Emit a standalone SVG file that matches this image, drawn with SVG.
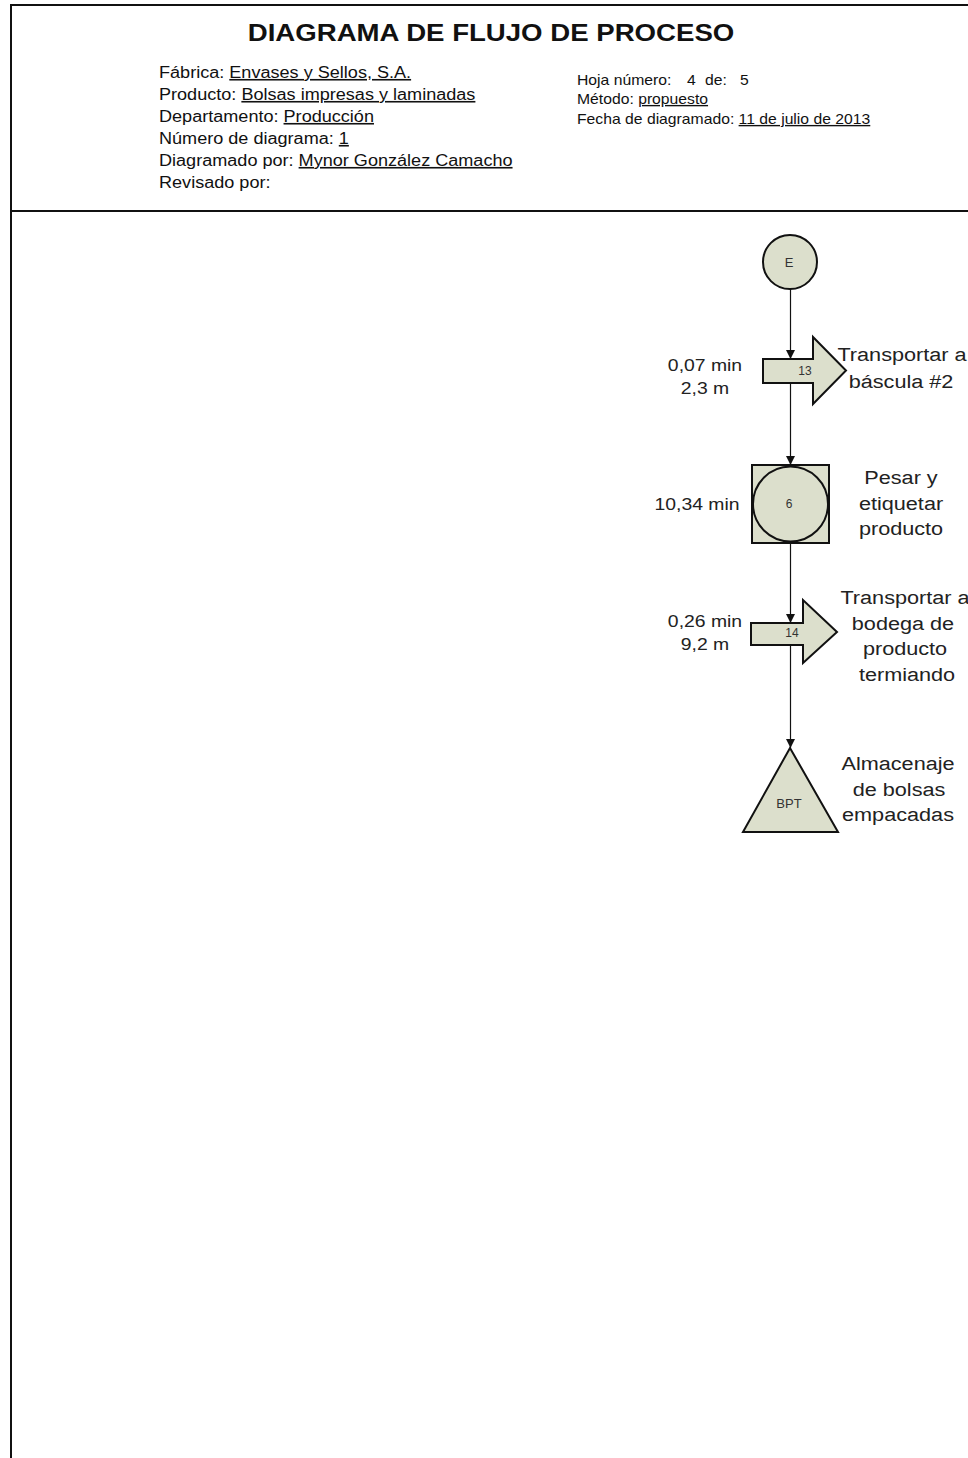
<svg xmlns="http://www.w3.org/2000/svg" width="968" height="1458" viewBox="0 0 968 1458">
  <style>
    text { font-family: "Liberation Sans", Arial, sans-serif; fill: #111; }
    .title { font-size: 24px; font-weight: bold; text-anchor: middle; }
    .info { font-size: 16px; }
    .info2 { font-size: 13.8px; }
    .u { text-decoration: underline; }
    .lbl { font-size: 19px; text-anchor: middle; fill: #222; }
    .tm { font-size: 17px; text-anchor: middle; fill: #222; }
    .num { font-size: 12px; text-anchor: middle; fill: #333; }
    .shape { fill: #dcdfcc; stroke: #111; stroke-width: 2; }
    .frame { stroke: #111; stroke-width: 2; fill: none; }
    .conn { stroke: #111; stroke-width: 1.2; fill: none; marker-end: url(#arr); }
  </style>
  <defs>
    <marker id="arr" viewBox="0 0 10 10" refX="10" refY="5" markerWidth="9" markerHeight="10" markerUnits="userSpaceOnUse" orient="auto">
      <path d="M0,0 L10,5 L0,10 Z" fill="#111"/>
    </marker>
  </defs>

  <rect width="968" height="1458" fill="#fff"/>

  <!-- page frame -->
  <g id="frame">
    <line class="frame" x1="11" y1="5" x2="968" y2="5"/>
    <line class="frame" x1="11" y1="4" x2="11" y2="1458"/>
    <line class="frame" x1="11" y1="211" x2="968" y2="211"/>
  </g>

  <!-- header -->
  <g id="header">
    <text class="title" transform="translate(491 41) scale(1.15 1)">DIAGRAMA DE FLUJO DE PROCESO</text>
    <text class="info" transform="translate(159 78) scale(1.13 1)">Fábrica: <tspan class="u">Envases y Sellos, S.A.</tspan></text>
    <text class="info" transform="translate(159 100) scale(1.13 1)">Producto: <tspan class="u">Bolsas impresas y laminadas</tspan></text>
    <text class="info" transform="translate(159 122) scale(1.13 1)">Departamento: <tspan class="u">Producción</tspan></text>
    <text class="info" transform="translate(159 144) scale(1.13 1)">Número de diagrama: <tspan class="u">1</tspan></text>
    <text class="info" transform="translate(159 166) scale(1.13 1)">Diagramado por: <tspan class="u">Mynor González Camacho</tspan></text>
    <text class="info" transform="translate(159 188) scale(1.13 1)">Revisado por:</text>

    <text class="info2" transform="translate(577 85) scale(1.14 1)">Hoja número:</text>
    <text class="info2" transform="translate(687 85) scale(1.14 1)">4</text>
    <text class="info2" transform="translate(705 85) scale(1.14 1)">de:</text>
    <text class="info2" transform="translate(740 85) scale(1.14 1)">5</text>
    <text class="info2" transform="translate(577 104) scale(1.14 1)">Método: <tspan class="u">propuesto</tspan></text>
    <text class="info2" transform="translate(577 124) scale(1.14 1)">Fecha de diagramado: <tspan class="u">11 de julio de 2013</tspan></text>
  </g>

  <!-- connectors -->
  <g id="connectors">
    <line class="conn" x1="790.5" y1="289" x2="790.5" y2="359"/>
    <line class="conn" x1="790.5" y1="383" x2="790.5" y2="465"/>
    <line class="conn" x1="790.5" y1="543" x2="790.5" y2="623"/>
    <line class="conn" x1="790.5" y1="645" x2="790.5" y2="748"/>
  </g>

  <!-- connector E -->
  <g id="node-E">
    <circle class="shape" cx="790" cy="262" r="27"/>
    <text class="num" x="789" y="267" style="font-size:13px">E</text>
  </g>

  <!-- transport 13 -->
  <g id="node-13">
    <polygon class="shape" points="763,359 813,359 813,337 846,370.5 813,404 813,383 763,383"/>
    <text class="num" x="805" y="375">13</text>
    <text class="tm" transform="translate(705 371) scale(1.14 1)">0,07 min</text>
    <text class="tm" transform="translate(705 394) scale(1.14 1)">2,3 m</text>
    <text class="lbl" transform="translate(902 361) scale(1.14 1)">Transportar a</text>
    <text class="lbl" transform="translate(901 388) scale(1.14 1)">báscula #2</text>
  </g>

  <!-- combined operation/inspection 6 -->
  <g id="node-6">
    <rect class="shape" x="752" y="465" width="77" height="78"/>
    <circle class="shape" cx="790.5" cy="504" r="37.5"/>
    <text class="num" x="789" y="508">6</text>
    <text class="tm" transform="translate(697 510) scale(1.14 1)">10,34 min</text>
    <text class="lbl" transform="translate(901 484) scale(1.14 1)">Pesar y</text>
    <text class="lbl" transform="translate(901 510) scale(1.14 1)">etiquetar</text>
    <text class="lbl" transform="translate(901 535) scale(1.14 1)">producto</text>
  </g>

  <!-- transport 14 -->
  <g id="node-14">
    <polygon class="shape" points="751,623 803,623 803,600 837,632 803,663 803,645 751,645"/>
    <text class="num" x="792" y="637">14</text>
    <text class="tm" transform="translate(705 627) scale(1.14 1)">0,26 min</text>
    <text class="tm" transform="translate(705 650) scale(1.14 1)">9,2 m</text>
    <text class="lbl" transform="translate(905 604) scale(1.14 1)">Transportar a</text>
    <text class="lbl" transform="translate(903 630) scale(1.14 1)">bodega de</text>
    <text class="lbl" transform="translate(905 655) scale(1.14 1)">producto</text>
    <text class="lbl" transform="translate(907 681) scale(1.14 1)">termiando</text>
  </g>

  <!-- storage BPT -->
  <g id="node-BPT">
    <polygon class="shape" points="790,748 838,832 743,832"/>
    <text class="num" x="789" y="808" style="font-size:13px">BPT</text>
    <text class="lbl" transform="translate(898 770) scale(1.14 1)">Almacenaje</text>
    <text class="lbl" transform="translate(899 796) scale(1.14 1)">de bolsas</text>
    <text class="lbl" transform="translate(898 821) scale(1.14 1)">empacadas</text>
  </g>
</svg>
